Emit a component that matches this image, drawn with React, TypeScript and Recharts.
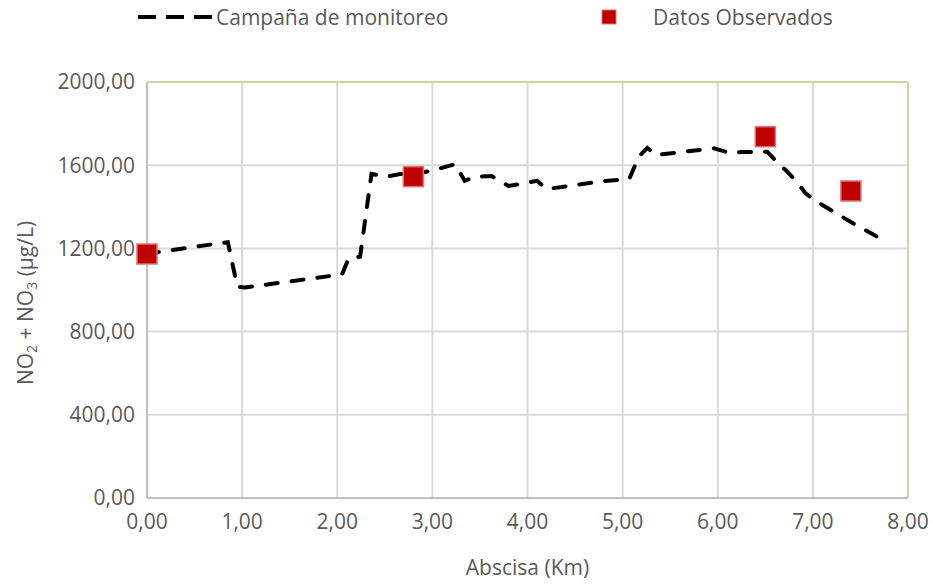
import React from 'react';
import { ComposedChart, Line, Scatter, XAxis, YAxis, CartesianGrid, Label, ReferenceLine } from 'recharts';

// Campaña de monitoreo (km, µg/L)
const campaignKm = [0, 0.85, 0.95, 1.03, 2.05, 2.12, 2.24, 2.36, 2.52, 2.66, 2.85, 3.0, 3.24, 3.34, 3.45, 3.62, 3.8, 4.1, 4.2, 4.75, 5.07, 5.17, 5.26, 5.35, 5.65, 5.96, 6.13, 6.24, 6.52, 6.62, 6.73, 6.83, 6.92, 7.04, 7.39, 7.72];
const campaignVal = [1175, 1230, 1015, 1012, 1075, 1152, 1160, 1558, 1545, 1558, 1560, 1575, 1605, 1525, 1545, 1548, 1500, 1525, 1485, 1521, 1534, 1641, 1683, 1649, 1665, 1681, 1658, 1663, 1665, 1617, 1569, 1521, 1466, 1425, 1329, 1245];

// Datos Observados
const observedKm = [0, 2.8, 6.5, 7.4];
const observedVal = [1173, 1545, 1737, 1476];

const xTicks = [0, 1, 2, 3, 4, 5, 6, 7, 8];
const yTicks = [0, 400, 800, 1200, 1600, 2000];

const campaignData = campaignKm.map((km, i) => ({ km, value: campaignVal[i] }));
const observedData = observedKm.map((km, i) => ({ km, value: observedVal[i] }));

const FONT = '"Open Sans", sans-serif';
const TEXT = '#595959';
const fmt = (v: number) => v.toFixed(2).replace('.', ',');

const Square = (props: any) => {
    const { cx, cy } = props;
    return <rect x={cx - 10} y={cy - 10} width={20} height={20} fill="#c00000" stroke="#e07070" strokeWidth={1.5} />;
};

const YTitle = (props: any) => {
    const { viewBox } = props;
    const x = 25;
    const y = viewBox.y + viewBox.height / 2 + 13;
    return (
        <text x={x} y={y} transform={`rotate(-90, ${x}, ${y})`} textAnchor="middle" dominantBaseline="central" fill={TEXT} fontSize={21} fontFamily={FONT}>
            NO<tspan fontSize={14} dy={6}>2</tspan><tspan dy={-6}> + NO</tspan><tspan fontSize={14} dy={6}>3</tspan><tspan dy={-6}> (µg/L)</tspan>
        </text>
    );
};

const ChartLegend = () => (
    <svg width={933} height={36} style={{ position: 'absolute', left: 0, top: 0 }}>
        <line x1={138} y1={17} x2={212} y2={17} stroke="#000" strokeWidth={4} strokeDasharray="18 10" />
        <text x={216} y={17} dominantBaseline="central" fill={TEXT} fontSize={21} fontFamily={FONT}>Campaña de monitoreo</text>
        <rect x={602} y={10} width={14} height={14} fill="#c00000" stroke="#e07070" strokeWidth={1} />
        <text x={653} y={17} dominantBaseline="central" fill={TEXT} fontSize={21} fontFamily={FONT}>Datos Observados</text>
    </svg>
);

export default function App() {
    return (
        <div style={{ position: 'absolute', left: 0, top: 0, width: 933, height: 584, background: '#fff' }}>
            <ComposedChart width={933} height={584} margin={{ top: 82, right: 25, bottom: 0, left: 0 }}>
                <CartesianGrid stroke="#d9d9d9" strokeWidth={2} />
                <XAxis
                    type="number"
                    dataKey="km"
                    domain={[0, 8]}
                    ticks={xTicks}
                    tickFormatter={fmt}
                    axisLine={{ stroke: '#bfbfbf', strokeWidth: 2 }}
                    tickLine={false}
                    tick={{ fill: TEXT, fontSize: 21, fontFamily: FONT }}
                    tickMargin={10}
                    height={86}
                    allowDuplicatedCategory={false}
                >
                    <Label value="Abscisa (Km)" position="insideBottom" offset={9} fill={TEXT} fontSize={21} fontFamily={FONT} />
                </XAxis>
                <YAxis
                    type="number"
                    dataKey="value"
                    domain={[0, 2000]}
                    ticks={yTicks}
                    tickFormatter={fmt}
                    axisLine={{ stroke: '#bfbfbf', strokeWidth: 2 }}
                    tickLine={false}
                    tick={{ fill: TEXT, fontSize: 21, fontFamily: FONT }}
                    tickMargin={6}
                    width={147}
                >
                    <Label content={<YTitle />} />
                </YAxis>
                <ReferenceLine y={2000} stroke="#d6d0a8" strokeWidth={2} />
                <ReferenceLine x={8} stroke="#d6d0a8" strokeWidth={2} />
                <Line
                    data={campaignData}
                    dataKey="value"
                    type="linear"
                    stroke="#000"
                    strokeWidth={4}
                    strokeDasharray="12 14"
                    strokeLinecap="round"
                    dot={false}
                    activeDot={false}
                    isAnimationActive={false}
                    name="Campaña de monitoreo"
                />
                <Scatter
                    data={observedData}
                    dataKey="value"
                    fill="#c00000"
                    shape={<Square />}
                    isAnimationActive={false}
                    name="Datos Observados"
                />
            </ComposedChart>
            <ChartLegend />
        </div>
    );
}
